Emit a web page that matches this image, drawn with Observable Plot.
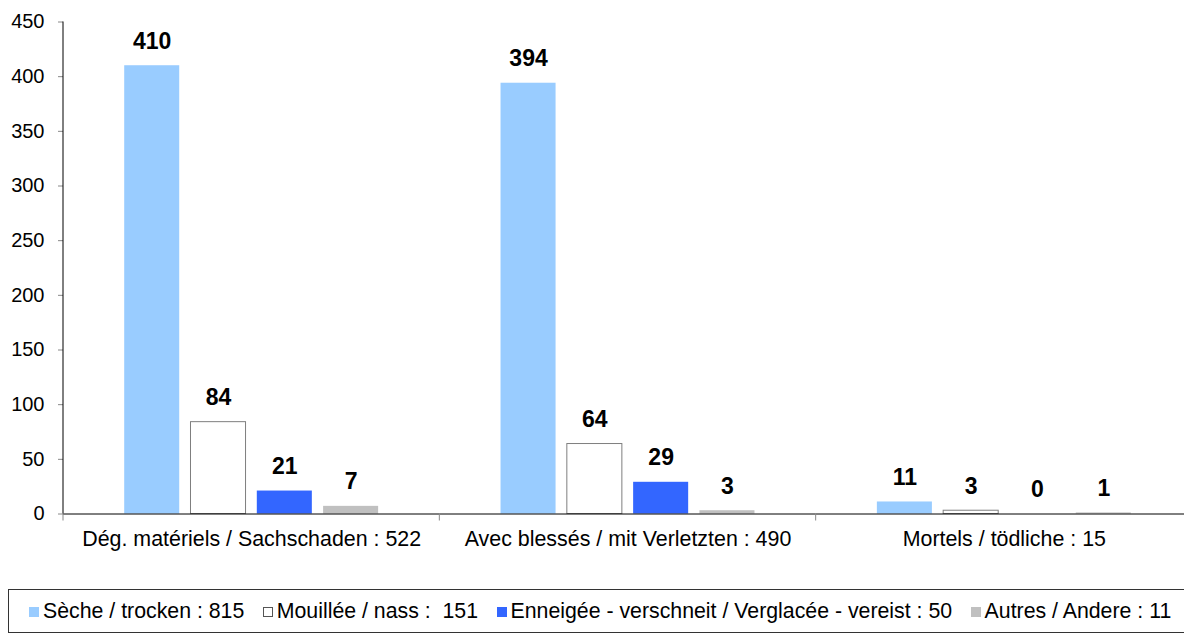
<!DOCTYPE html>
<html><head><meta charset="utf-8">
<script src="https://cdn.jsdelivr.net/npm/d3@7"></script>
<script src="https://cdn.jsdelivr.net/npm/@observablehq/plot@0.6"></script>
<style>
body{margin:0;background:#fff;font-family:"Liberation Sans",Arial,sans-serif;}
#chart svg{display:block;}
#legend{position:absolute;left:8px;top:589px;width:1200px;height:42px;border:1px solid #333;line-height:42px;font-size:21.3px;white-space:pre;padding-left:20px;color:#000;}
.item{display:inline-block;margin-right:18.5px;}
.sw{display:inline-block;width:10px;height:10px;margin-right:4px;box-sizing:border-box;vertical-align:1px;}
</style></head>
<body><div id="chart"></div><div id="legend"></div>
<script>
const groups = ["Dég. matériels / Sachschaden : 522", "Avec blessés / mit Verletzten : 490", "Mortels / tödliche : 15"];
const conditions = ["Sèche / trocken : 815", "Mouillée / nass :  151", "Enneigée - verschneit / Verglacée - vereist : 50", "Autres / Andere : 11"];
const colors = ["#99CCFF", "#FFFFFF", "#3366FF", "#C0C0C0"];
const valuesDegats = [410, 84, 21, 7];
const valuesBlesses = [394, 64, 29, 3];
const valuesMortels = [11, 3, 0, 1];
const yTicks = [0, 50, 100, 150, 200, 250, 300, 350, 400, 450];

const series = [valuesDegats, valuesBlesses, valuesMortels];
const data = [];
groups.forEach((g, gi) => conditions.forEach((c, ci) => data.push({group: g, cond: c, value: series[gi][ci]})));

const font = '"Liberation Sans", Arial, sans-serif';
const plot = Plot.plot({
  width: 1184,
  height: 575,
  marginLeft: 63,
  marginRight: 0,
  marginTop: 21.5,
  marginBottom: 61.5,
  style: {fontFamily: font, background: "#fff", color: "#000"},
  fx: {domain: groups, range: [63, 1192], padding: 0, round: false},
  x: {domain: conditions, paddingInner: 0.17, paddingOuter: 0.923, round: false, axis: null},
  y: {domain: [0, 450], axis: null},
  color: {domain: conditions, range: colors},
  marks: [
    Plot.barY(data, {fx: "group", x: "cond", y: "value", fill: "cond"}),
    Plot.barY(data.filter(d => d.cond === conditions[1]), {fx: "group", x: "cond", y: "value", fill: "#fff", stroke: "#7f7f7f", strokeWidth: 1}),
    Plot.ruleY([0], {stroke: "#000", strokeWidth: 1}),
    Plot.text(data, {fx: "group", x: "cond", y: "value", text: d => String(d.value), dy: -17, lineAnchor: "bottom", fontWeight: "bold", fontSize: 23, fill: "#000"}),
    Plot.axisY({ticks: yTicks, tickSize: 5, tickPadding: 14, fontSize: 20, label: null, stroke: "#888", fill: "#000"}),
    Plot.axisFx({anchor: "bottom", tickSize: 0, tickPadding: 17, fontSize: 21.4, label: null, fill: "#000"})
  ]
});
document.getElementById("chart").appendChild(plot);

// axis line and group separators derived from the scales
const fx = plot.scale("fx"), ys = plot.scale("y");
const svg = d3.select(plot);
const x0 = fx.apply(groups[0]);
const yBase = ys.apply(0), yTop = ys.apply(yTicks[yTicks.length - 1]);
svg.append("line").attr("x1", x0).attr("x2", x0).attr("y1", yTop).attr("y2", yBase).attr("stroke", "#000");
const seps = groups.map(g => fx.apply(g)).concat([fx.apply(groups[groups.length - 1]) + fx.bandwidth]);
seps.forEach(sx => svg.append("line").attr("x1", sx).attr("x2", sx).attr("y1", yBase).attr("y2", yBase + 7).attr("stroke", "#888"));

// legend
const legend = document.getElementById("legend");
conditions.forEach((c, i) => {
  const item = document.createElement("span");
  item.className = "item";
  const sw = document.createElement("span");
  sw.className = "sw";
  sw.style.background = colors[i];
  if (i === 1) sw.style.border = "1px solid #555";
  item.appendChild(sw);
  item.appendChild(document.createTextNode(c));
  legend.appendChild(item);
});
</script>
</body></html>
